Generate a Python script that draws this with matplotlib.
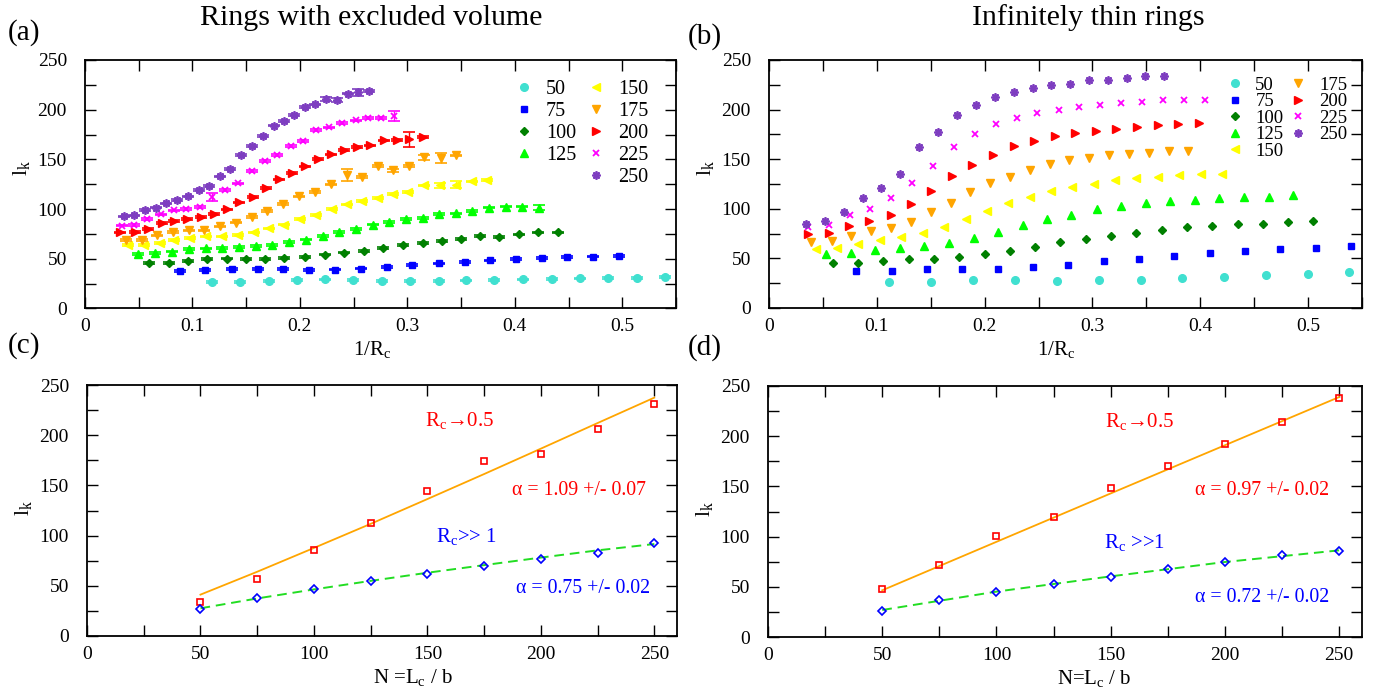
import matplotlib
matplotlib.use("Agg")
import matplotlib.pyplot as plt
import numpy as np
from matplotlib.lines import Line2D
from matplotlib.ticker import MultipleLocator, FormatStrFormatter

plt.rcParams['font.family'] = ['Liberation Serif', 'DejaVu Serif']
plt.rcParams['mathtext.fontset'] = 'custom'
plt.rcParams['mathtext.rm'] = 'Liberation Serif'
plt.rcParams['mathtext.it'] = 'Liberation Serif:italic'

# ---- data: rings with excluded volume, l_k vs 1/Rc ----
ring_sizes = [50, 75, 100, 125, 150, 175, 200, 225, 250]

ev_x50 = [0.1185, 0.144, 0.1708, 0.197, 0.223, 0.2495, 0.276, 0.302, 0.329, 0.355,
          0.381, 0.408, 0.435, 0.461, 0.487, 0.514, 0.540]
ev_y50 = [26.5, 26.8, 27.9, 28.5, 29.2, 28.5, 27.8, 27.8, 27.8, 28.2,
          28.8, 29.2, 29.8, 30.2, 30.5, 30.9, 31.5]
ev_x75 = [0.088, 0.1116, 0.1367, 0.1607, 0.1846, 0.2085, 0.2325, 0.2568, 0.2807, 0.3043,
          0.329, 0.3533, 0.3773, 0.4012, 0.4252, 0.449, 0.473, 0.4966]
ev_y75 = [37.9, 38.6, 39.9, 39.9, 39.6, 38.9, 39.2, 40.2, 41.9, 43.6,
          45.3, 46.9, 48.3, 49.9, 50.6, 51.6, 52.3, 52.7]
ev_x100 = [0.060, 0.0779, 0.0961, 0.114, 0.1318, 0.1497, 0.1675, 0.1848, 0.205, 0.223,
           0.241, 0.2592, 0.2772, 0.2958, 0.3141, 0.3318, 0.3495, 0.3677, 0.3857, 0.4037,
           0.422, 0.440]
ev_y100 = [45.6, 46.0, 48.0, 49.7, 50.3, 50.0, 50.0, 50.6, 52.0, 54.3,
           56.3, 58.0, 61.0, 63.7, 66.1, 68.1, 69.8, 72.8, 72.1, 74.5,
           76.5, 76.5]
ev_x125 = [0.049, 0.0651, 0.0806, 0.0967, 0.1122, 0.1278, 0.1433, 0.1588, 0.1743, 0.1901,
           0.2053, 0.2211, 0.2366, 0.2521, 0.2676, 0.2831, 0.2986, 0.3141, 0.3296, 0.3451,
           0.3606, 0.3761, 0.3916, 0.4071, 0.4226]
ev_y125 = [55.0, 55.7, 57.3, 59.7, 60.4, 60.7, 61.7, 62.7, 63.7, 66.7,
           69.4, 73.1, 77.1, 80.2, 84.5, 87.2, 90.2, 91.2, 95.3, 95.6,
           98.3, 101.6, 102.6, 102.6, 101.6]
ev_x150 = [0.0403, 0.0552, 0.0695, 0.0831, 0.098, 0.1122, 0.1278, 0.1426, 0.1575, 0.1712,
           0.1851, 0.2003, 0.2149, 0.2301, 0.244, 0.2574, 0.2726, 0.2868, 0.3008, 0.3157,
           0.3305, 0.3457, 0.3597, 0.3743]
ev_y150 = [63.7, 63.7, 66.1, 69.1, 70.8, 72.5, 72.5, 74.1, 76.5, 80.5,
           84.5, 89.9, 94.3, 100.3, 104.7, 108.0, 111.4, 115.4, 117.4, 123.8,
           124.1, 124.5, 127.8, 129.5]
ev_x175 = [0.0378, 0.0527, 0.067, 0.0819, 0.0967, 0.111, 0.1259, 0.1405, 0.155, 0.1696,
           0.1845, 0.1991, 0.214, 0.2285, 0.2434, 0.2577, 0.2723, 0.2868, 0.3011, 0.3157,
           0.3312, 0.3451]
ev_y175 = [69.1, 69.1, 73.5, 77.1, 78.5, 78.5, 82.5, 86.5, 92.2, 98.3,
           105.3, 112.7, 117.1, 124.8, 134.2, 132.5, 143.6, 138.9, 143.3, 152.3,
           151.3, 154.0]
ev_x200 = [0.0329, 0.0465, 0.0589, 0.0713, 0.0831, 0.0952, 0.1076, 0.1197, 0.1318, 0.1436,
           0.156, 0.1684, 0.1805, 0.1929, 0.2047, 0.2171, 0.2288, 0.2406, 0.253, 0.2654,
           0.2778, 0.2899, 0.3017, 0.3141]
ev_y200 = [76.5, 76.8, 79.8, 85.9, 87.9, 89.9, 92.2, 95.3, 99.6, 106.7,
           112.0, 121.4, 129.8, 136.5, 142.9, 150.3, 155.0, 159.4, 162.4, 164.1,
           169.1, 169.8, 170.4, 172.5]
ev_x225 = [0.0344, 0.0459, 0.0577, 0.0707, 0.0825, 0.0943, 0.1067, 0.1181, 0.1305, 0.1426,
           0.155, 0.1671, 0.1789, 0.1913, 0.2031, 0.2149, 0.2273, 0.2391, 0.2518, 0.2636,
           0.2753, 0.2878]
ev_y225 = [83.5, 84.2, 89.9, 94.6, 98.6, 100.0, 102.3, 112.0, 119.1, 125.8,
           138.2, 148.6, 154.7, 163.4, 168.4, 179.5, 182.2, 186.5, 189.2, 191.6,
           191.9, 193.3]
ev_x250 = [0.0363, 0.0459, 0.0561, 0.066, 0.0757, 0.0856, 0.0961, 0.1057, 0.1157, 0.1253,
           0.1352, 0.1451, 0.155, 0.1653, 0.1755, 0.1851, 0.1947, 0.2047, 0.2143, 0.2239,
           0.2347, 0.245, 0.2543, 0.2645]
ev_y250 = [92.6, 93.6, 99.3, 101.6, 105.7, 109.0, 112.7, 119.1, 123.5, 132.9,
           140.6, 154.3, 163.4, 173.8, 183.9, 188.6, 194.9, 203.0, 205.3, 210.7,
           209.7, 216.1, 217.4, 218.8]

# error bars: small everywhere, larger ones listed as (ring size, point index, error)
ev_err_small = 0.8
ev_err_large = [(250, 19, 2.0), (250, 20, 2.0), (250, 22, 3.7),
                (225, 7, 4.0), (225, 21, 5.0),
                (200, 22, 7.5),
                (175, 14, 6.0), (175, 17, 1.5), (175, 19, 2.5), (175, 20, 5.4),
                (150, 20, 2.5), (150, 21, 3.5),
                (125, 24, 3.0)]

# ---- data: infinitely thin rings ----
th_x50 = [0.1115, 0.1505, 0.1891, 0.228, 0.2667, 0.3057, 0.3447, 0.3833, 0.4223, 0.4606,
          0.4996, 0.5382]
th_y50 = [26.4, 26.4, 28.1, 28.7, 27.7, 28.1, 28.7, 30.1, 31.4, 32.8, 34.5, 35.8]
th_x75 = [0.0809, 0.1137, 0.1461, 0.1792, 0.2120, 0.2448, 0.2772, 0.3104, 0.3431, 0.3759,
          0.4087, 0.4418, 0.4742, 0.5073, 0.5398]
th_y75 = [36.8, 36.8, 39.2, 39.2, 39.5, 41.2, 43.6, 46.9, 49.6, 52.3,
          55.4, 57.4, 59.4, 60.7, 62.4]
th_x100 = [0.0589, 0.0824, 0.106, 0.1294, 0.1529, 0.1764, 0.2, 0.2231, 0.2466, 0.2701,
           0.2937, 0.3172, 0.3404, 0.3642, 0.3877, 0.4109, 0.4347, 0.4579, 0.4814, 0.5046]
th_y100 = [44.9, 45.2, 47.6, 49.0, 49.3, 51.6, 54.0, 57.4, 61.1, 66.1,
           69.2, 72.5, 75.9, 78.6, 81.3, 83.0, 84.3, 85.0, 86.3, 87.7]
th_x125 = [0.053, 0.0756, 0.0985, 0.1214, 0.1440, 0.1671, 0.1897, 0.2126, 0.2355, 0.2581,
           0.2803, 0.3039, 0.3268, 0.3493, 0.3722, 0.3951, 0.4177, 0.4409, 0.4634, 0.4863]
th_y125 = [54.0, 55.0, 58.7, 60.1, 62.1, 65.8, 70.5, 76.6, 84.0, 90.0,
           93.7, 99.8, 102.8, 105.5, 107.9, 109.2, 110.6, 111.9, 112.3, 113.9]
th_x150 = [0.0435, 0.0629, 0.083, 0.1028, 0.1223, 0.1427, 0.1625, 0.1823, 0.2021, 0.2219,
           0.2417, 0.2618, 0.281, 0.3014, 0.3212, 0.3407, 0.3608, 0.3806, 0.4003, 0.4201]
th_y150 = [59.4, 60.1, 64.1, 68.2, 71.5, 75.6, 81.6, 89.4, 97.8, 105.5,
           112.3, 118.3, 122.0, 125.4, 128.8, 130.8, 132.5, 134.1, 135.1, 135.5]
th_x175 = [0.0394, 0.058, 0.0762, 0.0948, 0.1130, 0.1316, 0.1501, 0.1684, 0.1866, 0.2049,
           0.2231, 0.2417, 0.2602, 0.2782, 0.297, 0.3156, 0.3338, 0.3521, 0.3706, 0.3889]
th_y175 = [66.8, 67.5, 72.9, 77.6, 81.0, 86.3, 96.4, 105.5, 117.0, 125.7,
           132.5, 139.5, 145.6, 149.3, 151.6, 154.0, 155.0, 156.4, 158.7, 158.0]
th_x200 = [0.036, 0.0552, 0.0744, 0.0932, 0.1127, 0.1313, 0.1505, 0.1696, 0.1885, 0.2077,
           0.2268, 0.246, 0.2649, 0.2840, 0.3032, 0.3221, 0.341, 0.3604, 0.3796, 0.3985]
th_y200 = [74.5, 75.2, 83.0, 88.0, 94.1, 104.8, 117.6, 133.1, 144.6, 154.3,
           163.1, 168.8, 172.9, 176.6, 178.6, 180.3, 182.3, 184.0, 185.0, 186.0]
th_x225 = [0.036, 0.0555, 0.0747, 0.0939, 0.1133, 0.1328, 0.152, 0.1712, 0.1910, 0.2101,
           0.2296, 0.2488, 0.2686, 0.2874, 0.3072, 0.3264, 0.3459, 0.3651, 0.3845, 0.4040]
th_y225 = [81.3, 83.6, 93.4, 100.1, 111.3, 126.4, 143.6, 162.1, 174.9, 185.0,
           191.7, 196.4, 200.1, 202.5, 204.8, 206.5, 207.2, 209.2, 209.6, 209.9]
th_x250 = [0.0342, 0.0515, 0.0691, 0.087, 0.1041, 0.1217, 0.1390, 0.1566, 0.1743, 0.1919,
           0.2095, 0.2268, 0.2445, 0.2618, 0.2788, 0.2964, 0.3143, 0.3317, 0.349, 0.3666]
th_y250 = [85.0, 87.3, 97.1, 110.9, 121.0, 134.8, 162.1, 177.6, 194.4, 204.8,
           212.6, 217.6, 222.0, 224.7, 226.1, 229.4, 230.1, 232.1, 233.8, 233.5]

# ---- data: l_k vs N ----
chain_N = [50, 75, 100, 125, 150, 175, 200, 225, 250]
ev_lk_small_R = [33.9, 56.8, 85.8, 113.0, 144.0, 174.5, 181.5, 206.4, 231.0]
ev_lk_large_R = [26.9, 37.9, 46.5, 54.9, 61.8, 69.5, 76.8, 82.8, 92.4]
ev_fit_small_R = [41.2, 64.0, 87.7, 111.7, 136.4, 161.3, 186.6, 212.1, 237.4]
ev_fit_large_R = [27.6, 37.4, 46.4, 54.9, 63.0, 70.6, 78.1, 85.3, 91.6]
th_lk_small_R = [47.5, 71.7, 100.9, 119.5, 148.1, 170.0, 192.2, 214.1, 238.4]
th_lk_large_R = [26.2, 36.5, 44.8, 53.1, 59.8, 67.4, 75.0, 81.3, 85.3]
th_fit_N = [50, 100, 150, 200, 250]
th_fit_small_R = [46.5, 94.8, 143.0, 191.0, 239.0]
th_fit_large_R = [26.9, 45.2, 60.4, 74.7, 86.3]

# ---- styles ----
colors = ['#40E0D0', '#0000FF', '#008000', '#00FF00', '#FFFF00',
          '#FFA500', '#FF0000', '#FF00FF', '#7E3EC0']
markers = ['o', 's', 'D', '^', '<', 'v', '>', 'x', (8, 2, 0)]
msizes = [5.5, 5, 4.5, 6, 6, 6, 6, 4.5, 6]

ev_xs = [ev_x50, ev_x75, ev_x100, ev_x125, ev_x150, ev_x175, ev_x200, ev_x225, ev_x250]
ev_ys = [ev_y50, ev_y75, ev_y100, ev_y125, ev_y150, ev_y175, ev_y200, ev_y225, ev_y250]
th_xs = [th_x50, th_x75, th_x100, th_x125, th_x150, th_x175, th_x200, th_x225, th_x250]
th_ys = [th_y50, th_y75, th_y100, th_y125, th_y150, th_y175, th_y200, th_y225, th_y250]

W, H = 1385, 693
fig = plt.figure(figsize=(W / 100, H / 100), dpi=100)


def box(l, t, r, b):
    return [l / W, 1 - b / H, (r - l) / W, (b - t) / H]


ax_a = fig.add_axes(box(85, 60, 676, 308.5))
ax_b = fig.add_axes(box(769, 60, 1362, 308))
ax_c = fig.add_axes(box(87, 385, 677, 636))
ax_d = fig.add_axes(box(768, 386, 1362, 637))


def style_axes(ax, xmax, xmaj, xmin, ylab_y):
    ax.set_ylim(0, 250)
    ax.set_xlim(0, xmax)
    ax.xaxis.set_major_locator(MultipleLocator(xmaj))
    ax.xaxis.set_minor_locator(MultipleLocator(xmin))
    ax.yaxis.set_major_locator(MultipleLocator(50))
    ax.yaxis.set_minor_locator(MultipleLocator(25))
    ax.xaxis.set_major_formatter(FormatStrFormatter('%g'))
    ax.tick_params(which='both', direction='in', top=True, right=True,
                   length=8, width=1, labelsize=14)
    ax.tick_params(axis='x', pad=7)
    ax.tick_params(axis='y', pad=13)
    for sp in ax.spines.values():
        sp.set_linewidth(1.3)
    ax.set_ylabel(r'l$_\mathrm{k}$', fontsize=16, labelpad=4, y=ylab_y)


def key_handles(with_gap):
    hs = []
    for i, n in enumerate(ring_sizes):
        if with_gap and n == 150:
            hs.append(Line2D([], [], ls='none', marker=None, label=' '))
        mew = 1.3 if markers[i] in ('x', (8, 2, 0)) else 1
        hs.append(Line2D([], [], ls='none', marker=markers[i], color=colors[i],
                         ms=msizes[i], mew=mew, label=str(n)))
    return hs


# (a) excluded volume
for i, n in enumerate(ring_sizes):
    err = np.full(len(ev_xs[i]), ev_err_small)
    for (nn, k, e) in ev_err_large:
        if nn == n:
            err[k] = e
    mew = 1.3 if markers[i] in ('x', (8, 2, 0)) else 1
    ax_a.errorbar(ev_xs[i], ev_ys[i], yerr=err, fmt='none', ecolor=colors[i],
                  elinewidth=1, capsize=4.5, capthick=1.2)
    ax_a.plot(ev_xs[i], ev_ys[i], ls='none', marker=markers[i], color=colors[i],
              ms=msizes[i], mew=mew)
style_axes(ax_a, 0.55, 0.1, 0.05, 0.565)
ax_a.set_xlabel(r'1/R$_\mathrm{c}$', fontsize=15, labelpad=3, x=0.486)
ax_a.legend(handles=key_handles(True), ncol=2, loc='upper right',
            bbox_to_anchor=(0.954, 0.918), frameon=False, fontsize=14.5,
            handlelength=1.0, handletextpad=0.6, columnspacing=0.5,
            labelspacing=0.14, borderpad=0, borderaxespad=0)

# (b) infinitely thin
for i, n in enumerate(ring_sizes):
    mew = 1.3 if markers[i] in ('x', (8, 2, 0)) else 1
    ax_b.plot(th_xs[i], th_ys[i], ls='none', marker=markers[i], color=colors[i],
              ms=msizes[i], mew=mew)
style_axes(ax_b, 0.55, 0.1, 0.05, 0.565)
ax_b.set_xlabel(r'1/R$_\mathrm{c}$', fontsize=15, labelpad=3, x=0.484)
ax_b.legend(handles=key_handles(False), ncol=2, loc='upper right',
            bbox_to_anchor=(0.975, 0.933), frameon=False, fontsize=13.5,
            handlelength=1.0, handletextpad=0.6, columnspacing=0.3,
            labelspacing=-0.03, borderpad=0, borderaxespad=0)

# (c) excluded volume, l_k vs N
ax_c.plot(chain_N, ev_fit_small_R, color='#FFA500', lw=1.3)
ax_c.plot(chain_N, ev_fit_large_R, color='#22DD22', lw=1.4, ls=(0, (5, 3)))
ax_c.plot(chain_N, ev_lk_small_R, ls='none', marker='s', mfc='none', mec='#FF0000',
          ms=5, mew=1.2)
ax_c.plot(chain_N, ev_lk_large_R, ls='none', marker='D', mfc='none', mec='#0000FF',
          ms=4.5, mew=1.2)
style_axes(ax_c, 260, 50, 25, 0.51)
ax_c.set_xlabel(r'N =L$_\mathrm{c}$ / b', fontsize=15, labelpad=3, x=0.553)
ax_c.text(149, 215, r'R$_\mathrm{c}$→0.5', color='#FF0000', fontsize=15, va='center')
ax_c.text(187.5, 145, 'α = 1.09 +/- 0.07', color='#FF0000', fontsize=14.3, va='center')
ax_c.text(154, 98.7, r'R$_\mathrm{c}$>> 1', color='#0000FF', fontsize=15, va='center')
ax_c.text(189, 47, 'α = 0.75 +/- 0.02', color='#0000FF', fontsize=14.3, va='center')

# (d) infinitely thin, l_k vs N
ax_d.plot(th_fit_N, th_fit_small_R, color='#FFA500', lw=1.3)
ax_d.plot(th_fit_N, th_fit_large_R, color='#22DD22', lw=1.4, ls=(0, (5, 3)))
ax_d.plot(chain_N, th_lk_small_R, ls='none', marker='s', mfc='none', mec='#FF0000',
          ms=5, mew=1.2)
ax_d.plot(chain_N, th_lk_large_R, ls='none', marker='D', mfc='none', mec='#0000FF',
          ms=4.5, mew=1.2)
style_axes(ax_d, 260, 50, 25, 0.51)
ax_d.set_xlabel(r'N=L$_\mathrm{c}$ / b', fontsize=15, labelpad=3, x=0.549)
ax_d.text(147.7, 214.8, r'R$_\mathrm{c}$→0.5', color='#FF0000', fontsize=15, va='center')
ax_d.text(187, 146, 'α = 0.97 +/- 0.02', color='#FF0000', fontsize=14.3, va='center')
ax_d.text(147, 94.6, r'R$_\mathrm{c}$ >>1', color='#0000FF', fontsize=15, va='center')
ax_d.text(186.8, 39.8, 'α = 0.72 +/- 0.02', color='#0000FF', fontsize=14.3, va='center')

# titles and panel letters
fig.text(371 / W, 1 - 18 / H, 'Rings with excluded volume', ha='center', va='center', fontsize=21.5)
fig.text(1088 / W, 1 - 18 / H, 'Infinitely thin rings', ha='center', va='center', fontsize=21.5)
fig.text(8 / W, 1 - 33 / H, '(a)', ha='left', va='center', fontsize=21)
fig.text(688 / W, 1 - 37 / H, '(b)', ha='left', va='center', fontsize=21)
fig.text(8 / W, 1 - 346 / H, '(c)', ha='left', va='center', fontsize=21)
fig.text(688 / W, 1 - 348 / H, '(d)', ha='left', va='center', fontsize=21)

fig.savefig('out.png', dpi=100)
